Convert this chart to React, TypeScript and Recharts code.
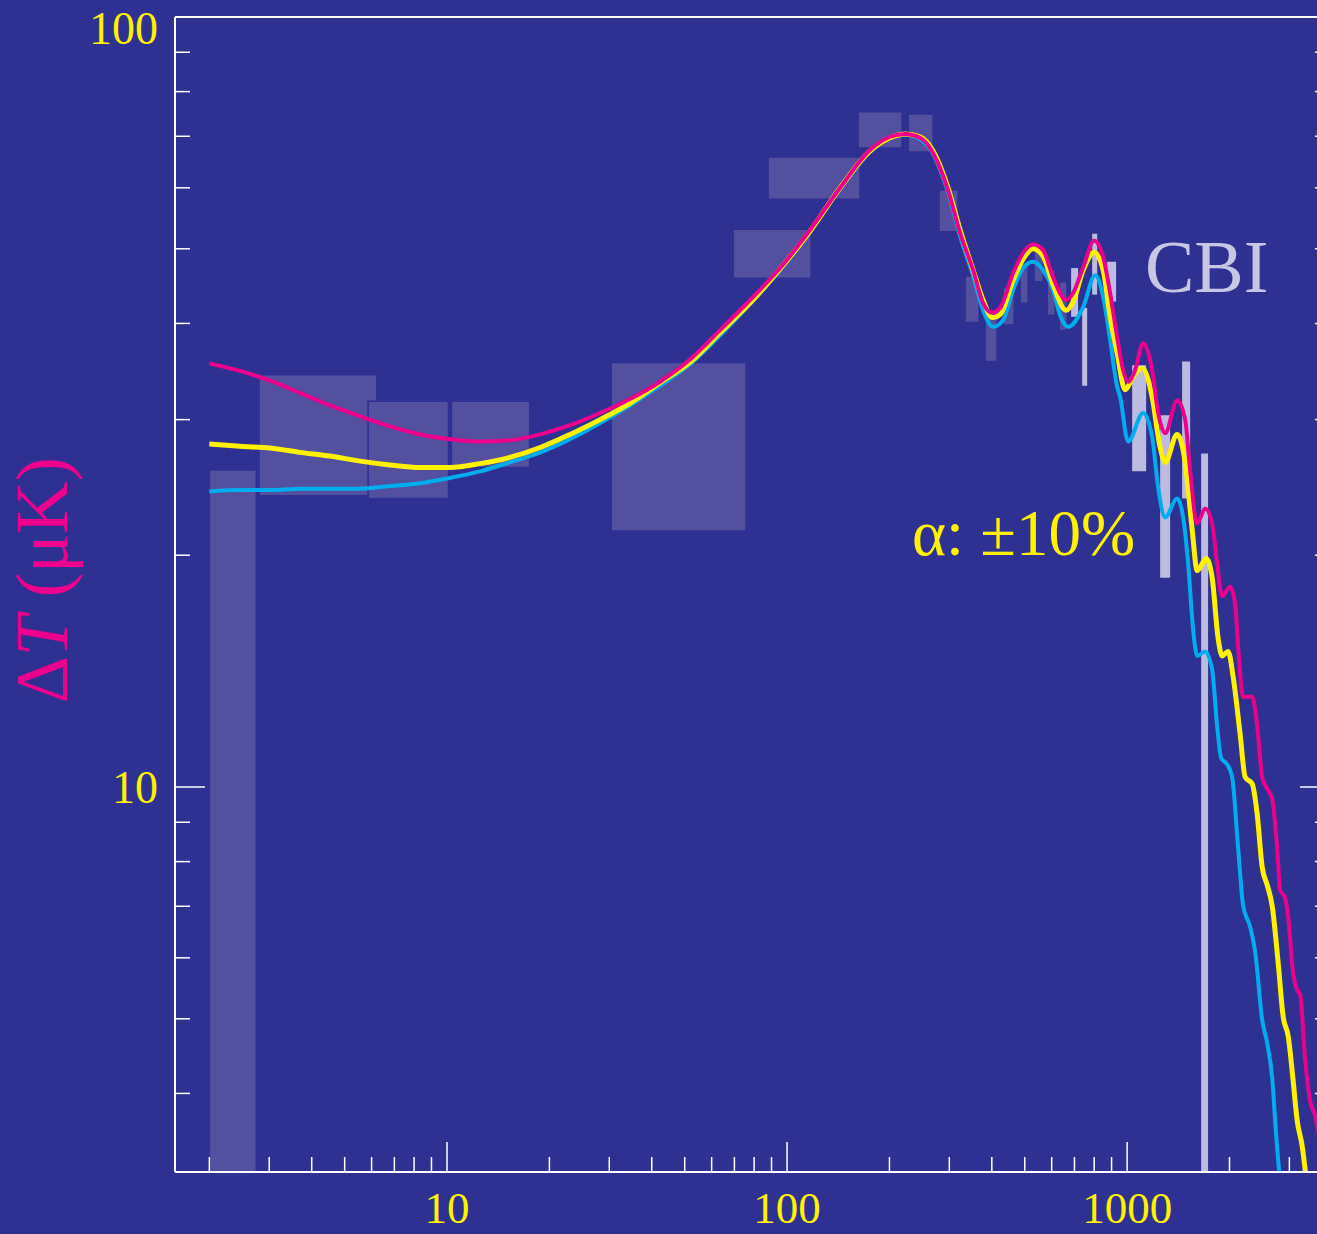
import { LineChart, Line, XAxis, YAxis, ReferenceArea } from 'recharts'

const SERIF = "'Liberation Serif', 'Times New Roman', serif"
const BG = '#2e3192'
const WHITE = '#ffffff'
const YELLOW = '#fff200'
const MAGENTA = '#ec008c'
const CYAN = '#00aeef'
const BOX = '#52509f'
const CBI = '#bdbce0'

// multipole l and band power dT (uK) for the three alpha models
const magentaL = [2.0, 2.46, 3.02, 3.69, 4.53, 5.55, 6.8, 8.33, 10.2, 12.5, 15.3, 18.8, 23.0, 28.2, 34.5, 42.3, 51.8, 63.5, 77.8, 95.4, 116.8, 143.2, 175.4, 200.9, 222.4, 246.1, 268.8, 295.6, 322.8, 352.5, 377.1, 400.9, 423.2, 462.1, 494.5, 529.1, 566.2, 605.9, 661.5, 693.8, 742.5, 799.8, 850.2, 891.3, 934.6, 973.2, 1006.8, 1055.6, 1114.4, 1184.6, 1233.8, 1293.6, 1403.2, 1481.3, 1532, 1606.8, 1696.1, 1778.3, 1839.4, 1902.8, 2008.8, 2078, 2120.7, 2193.6, 2331.7, 2412.5, 2495.7, 2563.7, 2670.4, 2762.1, 2818.4, 2915.4, 2975.8, 3078.2, 3162.3, 3227, 3338, 3453, 3571.9, 3694.9]
const magentaT = [35.5, 34.7, 33.7, 32.5, 31.3, 30.3, 29.4, 28.7, 28.3, 28.1, 28.2, 28.7, 29.5, 30.6, 31.9, 33.6, 35.9, 39.2, 42.9, 47.2, 52.9, 60.0, 67.2, 69.9, 70.5, 69.7, 66.6, 60.1, 52.4, 46.9, 42.5, 41.3, 41.9, 46.5, 49.4, 50.7, 49.8, 45.9, 42.9, 43.8, 47.3, 51.2, 48.8, 43.8, 38.4, 34.8, 33.6, 34.8, 37.7, 34.8, 30.6, 28.8, 31.8, 30.0, 25.8, 22.0, 23.0, 22.0, 19.5, 17.7, 18.2, 17.3, 15.2, 13.1, 13.1, 12.0, 10.3, 10.0, 9.65, 8.33, 7.35, 7.17, 6.78, 5.72, 5.45, 5.38, 4.43, 3.91, 3.74, 3.45]

const yellowL = [2.0, 2.46, 3.02, 3.69, 4.53, 5.55, 6.8, 8.33, 10.2, 12.5, 15.3, 18.8, 23.0, 28.2, 34.5, 42.3, 51.8, 63.5, 77.8, 95.4, 116.8, 143.2, 175.4, 200.9, 222.4, 246.1, 268.8, 295.6, 322.8, 352.5, 377.1, 400.9, 423.2, 462.1, 494.5, 529.1, 566.2, 605.9, 661.5, 693.8, 742.5, 799.8, 850.2, 891.3, 934.6, 986.5, 1041.4, 1106.9, 1184.6, 1250.6, 1293.6, 1403.2, 1481.3, 1553.3, 1606.8, 1707.9, 1778.3, 1851.9, 1902.8, 1982, 2050.3, 2150, 2224.1, 2331.7, 2412.5, 2495.7, 2581.5, 2670.4, 2781, 2876.8, 2975.8, 3078.2, 3162.3, 3271.1, 3361]
const yellowT = [27.9, 27.7, 27.55, 27.2, 26.9, 26.5, 26.2, 26.0, 26.0, 26.3, 26.8, 27.6, 28.7, 30.0, 31.5, 33.5, 35.6, 38.9, 42.5, 47.1, 52.7, 60.0, 67.0, 69.7, 70.5, 69.9, 67.0, 60.5, 52.9, 46.9, 42.9, 40.7, 41.1, 45.5, 48.5, 50.0, 48.9, 44.9, 41.6, 42.7, 46.9, 49.5, 46.9, 40.8, 36.6, 32.8, 34.1, 35.0, 32.1, 27.6, 26.4, 28.7, 26.4, 21.6, 19.1, 19.8, 18.7, 15.6, 14.8, 15.0, 13.9, 11.7, 10.3, 10.1, 9.22, 7.87, 7.46, 7.01, 5.91, 5.03, 4.75, 4.15, 3.69, 3.42, 3.1]

const cyanL = [2.0, 2.46, 3.02, 3.69, 4.53, 5.55, 6.8, 8.33, 10.2, 12.5, 15.3, 18.8, 23.0, 28.2, 34.5, 42.3, 51.8, 63.5, 77.8, 95.4, 116.8, 143.2, 175.4, 200.9, 222.4, 246.1, 268.8, 295.6, 322.8, 352.5, 377.1, 403.6, 431.8, 462.1, 494.5, 529.1, 566.2, 605.9, 635.2, 671, 742.5, 805.3, 850.2, 891.3, 934.6, 953.6, 1006.8, 1114.4, 1184.6, 1233.8, 1293.6, 1403.2, 1461.4, 1511.8, 1563.7, 1606.8, 1696.1, 1778.3, 1839.4, 1890.4, 1968.7, 2036.6, 2120.7, 2193.6, 2300.5, 2379.7, 2495.7, 2581.5, 2670.4, 2743, 2799.7, 2830]
const cyanT = [24.2, 24.3, 24.3, 24.4, 24.4, 24.4, 24.6, 24.8, 25.2, 25.7, 26.4, 27.2, 28.3, 29.7, 31.3, 33.2, 35.4, 38.6, 42.4, 46.9, 52.6, 59.8, 66.8, 69.7, 70.3, 69.4, 66.4, 59.7, 51.9, 46.1, 41.6, 39.6, 40.4, 44.2, 47.2, 48.1, 46.9, 44.2, 41.0, 39.6, 42.0, 46.2, 43.3, 38.1, 33.1, 32.1, 28.1, 30.6, 28.5, 24.5, 22.4, 23.7, 22.4, 19.5, 16.0, 14.8, 15.0, 14.2, 12.0, 10.9, 10.7, 10.3, 8.33, 7.01, 6.58, 6.11, 4.98, 4.65, 4.19, 3.53, 3.16, 3.0]

// band powers from the earlier experiments: l range and dT range
const bandLo = [2.0, 2.8, 5.86, 10.3, 30.4, 69.4, 87.9, 161.8, 227, 279.9, 333.8, 382.3, 431.8, 484.5, 532.7, 581.8, 631]
const bandHi = [2.75, 6.22, 10.1, 17.5, 75.7, 117.7, 163.9, 217.8, 268.8, 318.4, 367, 414.6, 465.2, 511.5, 566.3, 614.2, 666]
const bandMin = [3, 23.9, 23.7, 26.0, 21.5, 45.8, 58.0, 67.6, 66.8, 52.6, 40.1, 35.7, 39.8, 42.5, 45.3, 41.0, 39.2]
const bandMax = [25.8, 34.3, 31.7, 31.7, 35.6, 53.0, 65.8, 75.3, 74.8, 59.6, 46.1, 41.3, 44.6, 47.8, 50.4, 46.9, 45.3]

// CBI band powers
const cbiLo = [684.4, 737.4, 789.2, 873.5, 1034.5, 1250.5, 1451, 1651]
const cbiHi = [717.6, 762.9, 816.4, 928.1, 1137.4, 1338, 1532, 1730]
const cbiMin = [40.8, 33.2, 43.6, 42.7, 25.7, 18.7, 23.7, 3]
const cbiMax = [47.2, 41.9, 52.3, 48.1, 35.3, 30.4, 35.7, 27.1]

const xTicks = [2, 3, 4, 5, 6, 7, 8, 9, 10, 20, 30, 40, 50, 60, 70, 80, 90, 100, 200, 300, 400, 500, 600, 700, 800, 900, 1000, 2000, 3000]
const yTicks = [4, 5, 6, 7, 8, 9, 10, 20, 30, 40, 50, 60, 70, 80, 90, 100]

const X_DOMAIN: [number, number] = [1.585, 3950]
const Y_DOMAIN: [number, number] = [3.1623, 100]

const toRows = (ls: number[], ts: number[]) => ls.map((l, i) => ({ l, t: ts[i] }))
const magenta = toRows(magentaL, magentaT)
const yellow = toRows(yellowL, yellowT)
const cyan = toRows(cyanL, cyanT)

const isDecade = (v: number) => Math.abs(Math.log10(v) - Math.round(Math.log10(v))) < 1e-9

// ticks point into the frame, decades get the long ones
function BottomTick({ x, y, payload }: any) {
  const major = isDecade(payload.value)
  return (
    <g>
      <line x1={x} y1={y} x2={x} y2={y - (major ? 30 : 15)} stroke={WHITE} strokeWidth={1.5} />
      {major && (
        <text x={x} y={y + 51} textAnchor="middle" fill={YELLOW} fontSize={45} fontFamily={SERIF}>
          {payload.value}
        </text>
      )}
    </g>
  )
}

function TopTick({ x, y, payload }: any) {
  const major = isDecade(payload.value)
  return <line x1={x} y1={y} x2={x} y2={y + (major ? 30 : 15)} stroke={WHITE} strokeWidth={1.5} />
}

function LeftTick({ x, y, payload }: any) {
  const major = isDecade(payload.value)
  return (
    <g>
      <line x1={x} y1={y} x2={x + (major ? 30 : 15)} y2={y} stroke={WHITE} strokeWidth={1.5} />
      {major && (
        <text x={x - 17} y={y + (payload.value === 100 ? 27 : 16)} textAnchor="end" fill={YELLOW} fontSize={46} fontFamily={SERIF}>
          {payload.value}
        </text>
      )}
    </g>
  )
}

function RightTick({ x, y, payload }: any) {
  const major = isDecade(payload.value)
  return <line x1={x} y1={y} x2={x - (major ? 30 : 15)} y2={y} stroke={WHITE} strokeWidth={1.5} />
}

const axisLine = { stroke: WHITE, strokeWidth: 2 }

export default function App() {
  return (
    <div style={{ position: 'absolute', left: 0, top: 0, width: 1317, height: 1234, overflow: 'hidden', background: BG }}>
      <LineChart width={1340} height={1234} margin={{ top: 0, right: 0, bottom: 0, left: 0 }}>
        <XAxis
          dataKey="l"
          type="number"
          scale="log"
          domain={X_DOMAIN}
          allowDataOverflow
          ticks={xTicks}
          interval={0}
          height={62}
          tickSize={0}
          tickMargin={0}
          axisLine={axisLine}
          tick={(p: any) => <BottomTick {...p} />}
        />
        <XAxis
          xAxisId="top"
          orientation="top"
          type="number"
          scale="log"
          domain={X_DOMAIN}
          allowDataOverflow
          ticks={xTicks}
          interval={0}
          height={17}
          tickSize={0}
          tickMargin={0}
          axisLine={axisLine}
          tick={(p: any) => <TopTick {...p} />}
        />
        <YAxis
          type="number"
          scale="log"
          domain={Y_DOMAIN}
          allowDataOverflow
          ticks={yTicks}
          interval={0}
          width={175}
          tickSize={0}
          tickMargin={0}
          axisLine={axisLine}
          tick={(p: any) => <LeftTick {...p} />}
        />
        <YAxis
          yAxisId="right"
          orientation="right"
          type="number"
          scale="log"
          domain={Y_DOMAIN}
          allowDataOverflow
          ticks={yTicks}
          interval={0}
          width={10}
          tickSize={0}
          tickMargin={0}
          axisLine={axisLine}
          tick={(p: any) => <RightTick {...p} />}
        />

        {bandLo.map((lo, i) => (
          <ReferenceArea
            key={`band-${i}`}
            x1={lo}
            x2={bandHi[i]}
            y1={bandMin[i]}
            y2={bandMax[i]}
            fill={BOX}
            fillOpacity={1}
            stroke={BG}
            strokeWidth={1.5}
            ifOverflow="hidden"
          />
        ))}
        {cbiLo.map((lo, i) => (
          <ReferenceArea
            key={`cbi-${i}`}
            x1={lo}
            x2={cbiHi[i]}
            y1={cbiMin[i]}
            y2={cbiMax[i]}
            fill={CBI}
            fillOpacity={1}
            ifOverflow="hidden"
          />
        ))}

        <Line data={cyan} dataKey="t" type="monotone" stroke={CYAN} strokeWidth={4} dot={false} isAnimationActive={false} />
        <Line data={yellow} dataKey="t" type="monotone" stroke={YELLOW} strokeWidth={5} dot={false} isAnimationActive={false} />
        <Line data={magenta} dataKey="t" type="monotone" stroke={MAGENTA} strokeWidth={4} dot={false} isAnimationActive={false} />
      </LineChart>

      <svg width={1317} height={1234} style={{ position: 'absolute', left: 0, top: 0, pointerEvents: 'none' }}>
        <text transform="translate(67,580) rotate(-90)" textAnchor="middle" fill={MAGENTA} fontSize={73} fontFamily={SERIF}>
          Δ<tspan fontStyle="italic">T</tspan> (μK)
        </text>
        <text x={1145} y={292} fill="#c7c6e5" fontSize={74} fontFamily={SERIF}>CBI</text>
        <text x={912} y={555} fill={YELLOW} fontSize={65} fontFamily={SERIF}>α: ±10%</text>
      </svg>
    </div>
  )
}
